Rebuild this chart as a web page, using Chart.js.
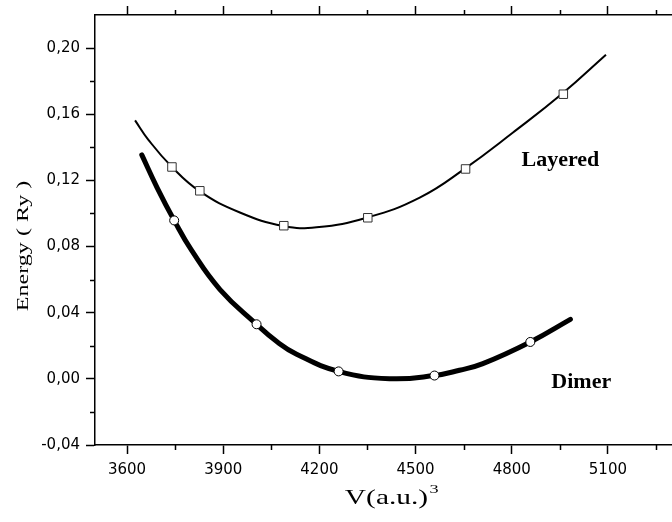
<!DOCTYPE html>
<html lang="en">
<head>
    <meta charset="UTF-8">
    <title>Energy vs volume</title>
    <script src="https://cdn.jsdelivr.net/npm/chart.js"></script>
    <style>
        body { margin: 0; overflow: hidden; background: #fff; }
    </style>
</head>
<body>
    <canvas id="grafico" width="672" height="522"></canvas>

    <script>
        // calculated points (symbols)
        const layeredV = [3740, 3827, 4089, 4351, 4656, 4961]
        const layeredE = [0.1281, 0.1137, 0.0926, 0.0974, 0.1269, 0.1721]
        const dimerV = [3747, 4004, 4260, 4559, 4858]
        const dimerE = [0.0958, 0.0330, 0.0045, 0.0020, 0.0223]

        // fitted curves
        const layeredFitV = [3625, 3666, 3739, 3826, 3952, 4088, 4191, 4350, 4513, 4655, 4803, 4958, 5094]
        const layeredFitE = [0.1563, 0.1447, 0.1283, 0.1135, 0.1006, 0.0924, 0.0916, 0.0976, 0.1096, 0.1273, 0.1488, 0.1725, 0.1960]
        const dimerFitV = [3646, 3694, 3747, 3802, 3890, 4004, 4066, 4129, 4260, 4419, 4559, 4637, 4710, 4858, 4983]
        const dimerFitE = [0.1354, 0.1155, 0.0958, 0.0775, 0.0540, 0.0330, 0.0227, 0.0149, 0.0045, 0.0001, 0.0020, 0.0052, 0.0092, 0.0223, 0.0360]

        // ticks
        const xTicks = [3600, 3750, 3900, 4050, 4200, 4350, 4500, 4650, 4800, 4950, 5100, 5250]
        const xLabels = [3600, 3900, 4200, 4500, 4800, 5100]
        const yTicks = [-0.04, -0.02, 0.00, 0.02, 0.04, 0.06, 0.08, 0.10, 0.12, 0.14, 0.16, 0.18, 0.20]
        const yLabels = [-0.04, 0.00, 0.04, 0.08, 0.12, 0.16, 0.20]

        const curveNames = ['Layered', 'Dimer']
        const curveNameV = [4952, 5017]
        const curveNameE = [0.1323, -0.002]

        const pts = (xs, ys) => xs.map((x, i) => ({ x: x, y: ys[i] }))
        const isIn = (list, v) => list.some(m => Math.abs(m - v) < 1e-9)

        const minorLen = 5

        // minor tick marks + texts drawn on top of the chart
        const extras = {
            id: 'extras',
            afterDraw(chart) {
                const c = chart.ctx
                const a = chart.chartArea
                const sx = chart.scales.x, sy = chart.scales.y
                c.save()
                c.strokeStyle = '#000'
                c.lineWidth = 1.5
                c.beginPath()
                xTicks.forEach(v => {
                    if (isIn(xLabels, v)) return
                    const px = Math.round(sx.getPixelForValue(v)) + 0.5
                    c.moveTo(px, a.bottom); c.lineTo(px, a.bottom + minorLen)
                    c.moveTo(px, a.top); c.lineTo(px, a.top - minorLen)
                })
                yTicks.forEach(v => {
                    if (isIn(yLabels, v)) return
                    const py = Math.round(sy.getPixelForValue(v)) + 0.5
                    c.moveTo(a.left, py); c.lineTo(a.left - minorLen, py)
                })
                c.stroke()

                c.fillStyle = '#000'
                // curve names
                c.font = 'bold 22px "Liberation Serif"'
                c.textAlign = 'center'
                c.textBaseline = 'middle'
                curveNames.forEach((n, i) => {
                    c.fillText(n, sx.getPixelForValue(curveNameV[i]), sy.getPixelForValue(curveNameE[i]))
                })

                // x title, stretched like the original
                const cx = (a.left + a.right) / 2 + 3
                c.save()
                c.translate(cx, 504)
                c.scale(1.4, 1)
                c.font = '21px "Liberation Serif"'
                c.textAlign = 'center'
                c.textBaseline = 'alphabetic'
                c.fillText('V(a.u.)', 0, 0)
                const w = c.measureText('V(a.u.)').width
                c.font = '13px "Liberation Serif"'
                c.textAlign = 'left'
                c.fillText('3', w / 2 + 1, -11)
                c.restore()

                // y title
                c.save()
                c.translate(28, 246)
                c.rotate(-Math.PI / 2)
                c.scale(1.42, 1)
                c.font = '17px "Liberation Serif"'
                c.textAlign = 'center'
                c.textBaseline = 'alphabetic'
                c.fillText('Energy ( Ry )', 0, 0)
                c.restore()

                c.restore()
            }
        }

        const xScale = (pos) => ({
            type: 'linear',
            position: pos,
            min: 3500,
            max: 5300,
            afterBuildTicks: s => { s.ticks = xTicks.map(v => ({ value: v })) },
            afterFit: s => {
                s.height = pos === 'bottom' ? 77 : 14
                s.paddingLeft = 0
                s.paddingRight = 0
            },
            border: { display: true, color: '#000', width: 1.5 },
            grid: {
                drawOnChartArea: false,
                drawTicks: true,
                tickLength: 9,
                tickWidth: 1.5,
                tickColor: ctx => isIn(xLabels, ctx.tick.value) ? '#000' : 'rgba(0,0,0,0)'
            },
            ticks: {
                display: pos === 'bottom',
                autoSkip: false,
                maxRotation: 0,
                padding: 7,
                color: '#000',
                font: { family: 'DejaVu Sans', size: 15 },
                callback: v => isIn(xLabels, v) ? String(v) : ''
            }
        })

        new Chart(document.getElementById('grafico'), {
            type: 'scatter',
            data: {
                datasets: [
                    {
                        data: pts(layeredV, layeredE),
                        showLine: false,
                        pointStyle: 'rect',
                        pointRadius: 6,
                        pointBackgroundColor: '#fff',
                        pointBorderColor: '#333',
                        pointBorderWidth: 1
                    },
                    {
                        data: pts(dimerV, dimerE),
                        showLine: false,
                        pointStyle: 'circle',
                        pointRadius: 4.5,
                        pointBackgroundColor: '#fff',
                        pointBorderColor: '#000',
                        pointBorderWidth: 1
                    },
                    {
                        data: pts(layeredFitV, layeredFitE),
                        showLine: true,
                        pointRadius: 0,
                        borderColor: '#000',
                        borderWidth: 2,
                        tension: 0.45
                    },
                    {
                        data: pts(dimerFitV, dimerFitE),
                        showLine: true,
                        pointRadius: 0,
                        borderColor: '#000',
                        borderWidth: 5,
                        borderCapStyle: 'round',
                        tension: 0.45
                    }
                ]
            },
            options: {
                responsive: false,
                animation: false,
                layout: { padding: 0, autoPadding: false },
                plugins: { legend: { display: false }, tooltip: { enabled: false } },
                scales: {
                    x: xScale('bottom'),
                    x2: xScale('top'),
                    y: {
                        type: 'linear',
                        position: 'left',
                        min: -0.04,
                        max: 0.22,
                        afterBuildTicks: s => { s.ticks = yTicks.map(v => ({ value: v })) },
                        afterFit: s => { s.width = 95 },
                        border: { display: true, color: '#000', width: 1.5 },
                        grid: {
                            drawOnChartArea: false,
                            tickLength: 9,
                            tickWidth: 1.5,
                            tickColor: ctx => isIn(yLabels, ctx.tick.value) ? '#000' : 'rgba(0,0,0,0)'
                        },
                        ticks: {
                            autoSkip: false,
                            padding: 6,
                            color: '#000',
                            font: { family: 'DejaVu Sans', size: 15 },
                            callback: v => isIn(yLabels, v) ? v.toFixed(2).replace('.', ',') : ''
                        }
                    }
                }
            },
            plugins: [extras]
        })
    </script>
</body>
</html>
